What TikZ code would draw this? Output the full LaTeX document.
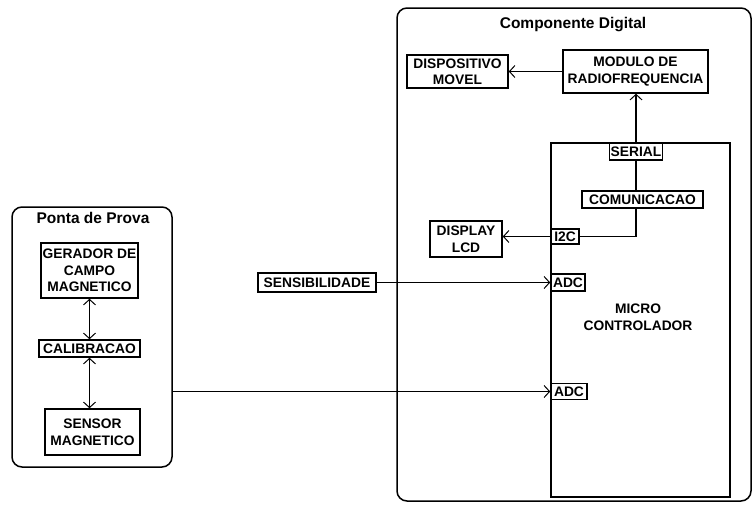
\documentclass[tikz,border=0pt]{standalone}
\usepackage{fontspec}
\setmainfont{Liberation Sans}
\usetikzlibrary{arrows.meta,calc}
\begin{document}
\begin{tikzpicture}[x=1pt,y=-1pt,
  every node/.style={font=\fontsize{13.8}{16.5}\selectfont\bfseries},
  ttl/.style={font=\fontsize{15.5}{18}\selectfont\bfseries},
  blk/.style={draw,line width=1.5pt,inner sep=0pt,align=center},
  grp/.style={draw,line width=1.5pt,rounded corners=10pt,inner sep=0pt},
  conn/.style={line width=1.2pt},
  arr/.style={conn,-{Straight Barb[length=5.5pt,width=12pt,line width=1pt]}},
  darr/.style={conn,{Straight Barb[length=5.5pt,width=12pt,line width=1pt]}-{Straight Barb[length=5.5pt,width=12pt,line width=1pt]}}]
\useasboundingbox (0,0) rectangle (756,506);
% groups
\node[grp,minimum width=160pt,minimum height=260pt] (ponta) at (92,337) {};
\node[ttl] (pontat) at (93,218) {Ponta de Prova};
\node[grp,minimum width=354pt,minimum height=493pt] (comp) at (574,254.5) {};
\node[ttl] (compt) at (573,25) {Componente Digital};
\node[blk,minimum width=179pt,minimum height=354pt] (micro) at (640.5,320) {};
\node[align=center] (microt) at (638,317) {MICRO\\CONTROLADOR};
% ponta de prova blocks
\node[blk,minimum width=97pt,minimum height=55pt] (gerador) at (89.5,270.5) {GERADOR DE\\CAMPO\\MAGNETICO};
\node[blk,minimum width=101pt,minimum height=17pt] (calib) at (89.5,348.5) {CALIBRACAO};
\node[blk,minimum width=95pt,minimum height=46pt] (sensor) at (92.5,432) {SENSOR\\MAGNETICO};
% digital blocks
\node[blk,minimum width=101pt,minimum height=33pt] (disp) at (457.5,71.5) {DISPOSITIVO\\MOVEL};
\node[blk,minimum width=145pt,minimum height=43pt] (modulo) at (635.5,71.5) {MODULO DE\\RADIOFREQUENCIA};
\node[blk,minimum width=53pt,minimum height=17pt] (serial) at (636,151.5) {SERIAL};
\node[blk,minimum width=121pt,minimum height=17pt] (comm) at (642.5,199.5) {COMUNICACAO};
\node[blk,minimum width=28pt,minimum height=15pt] (i2c) at (565,236.5) {I2C};
\node[blk,minimum width=72pt,minimum height=36pt] (display) at (466,239) {DISPLAY\\LCD};
\node[blk,minimum width=34pt,minimum height=17pt] (adca) at (568,282.5) {ADC};
\node[blk,minimum width=36pt,minimum height=16pt] (adcb) at (569,391.5) {ADC};
\node[blk,minimum width=118pt,minimum height=19pt] (sens) at (317,282.5) {SENSIBILIDADE};
% connectors
\draw[darr] (calib.north -| gerador.south) -- (gerador.south);
\draw[darr] (calib.south) -- (calib.south |- sensor.north);
\draw[arr] (adcb.west -| ponta.east) -- (adcb.west);
\draw[arr] (sens.east) -- (adca.west);
\draw[arr] (modulo.west) -- (modulo.west -| disp.east);
\draw[arr] (serial.north) -- (serial.north |- modulo.south);
\draw[conn] (serial.south) -- (serial.south |- comm.north);
\draw[conn] (serial.south |- comm.south) |- (i2c.east);
\draw[arr] (i2c.west) -- (i2c.west -| display.east);
\end{tikzpicture}
\end{document}
